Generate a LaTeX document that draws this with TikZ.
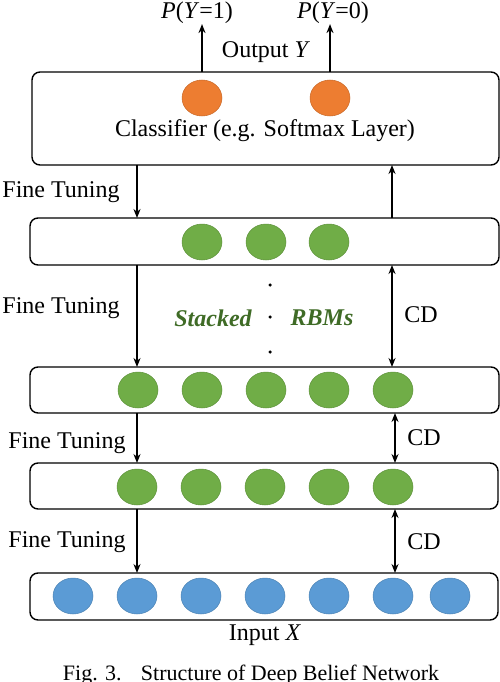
\documentclass[tikz,border=0pt]{standalone}
\usepackage{fontspec}
\setmainfont{Liberation Serif}
\usetikzlibrary{shapes.geometric,arrows.meta}
\definecolor{cor}{HTML}{ED7D31}
\definecolor{cgr}{HTML}{70AD47}
\definecolor{cbl}{HTML}{5B9BD5}
\definecolor{cdg}{HTML}{3F6B26}
\tikzset{
  layerbox/.style={draw, line width=1.4pt, rounded corners=8pt},
  unitor/.style={ellipse, fill=cor, draw=cor!85!black, line width=0.5pt, minimum width=40pt, minimum height=36pt, inner sep=0pt},
  unitgr/.style={ellipse, fill=cgr, draw=cgr!85!black, line width=0.5pt, minimum width=40pt, minimum height=36pt, inner sep=0pt},
  unitbl/.style={ellipse, fill=cbl, draw=cbl!85!black, line width=0.5pt, minimum width=40pt, minimum height=36pt, inner sep=0pt},
  lbl/.style={font=\fontsize{24pt}{28pt}\selectfont, inner sep=0pt},
  arr/.style={line width=1.7pt, -{Stealth[length=9pt,width=7pt]}},
  darr/.style={line width=1.7pt, {Stealth[length=9pt,width=7pt]}-{Stealth[length=9pt,width=7pt]}},
  dotn/.style={circle, fill=black, inner sep=0pt, minimum size=3.5pt}
}
\begin{document}
\begin{tikzpicture}[x=1pt,y=-1pt]
\useasboundingbox (0,0) rectangle (500,682);
% boxes
\draw[layerbox] (32,72) rectangle (499,165);
\draw[layerbox] (30,218) rectangle (499,265);
\draw[layerbox] (30,367) rectangle (499,413);
\draw[layerbox] (30,463) rectangle (498,509);
\draw[layerbox] (30,573) rectangle (498,620);
% coordinates on boxes
\coordinate (clsT1) at (202,72);
\coordinate (clsT2) at (330,72);
\coordinate (clsB1) at (137,165);
\coordinate (clsB2) at (392,165);
\coordinate (b2T1) at (137,218);
\coordinate (b2T2) at (392,218);
\coordinate (b2B1) at (137,265);
\coordinate (b2B2) at (392,265);
\coordinate (b3T1) at (137,367);
\coordinate (b3T2) at (392,367);
\coordinate (b3B1) at (137,413);
\coordinate (b3B2) at (395,413);
\coordinate (b4T1) at (137,463);
\coordinate (b4T2) at (395,463);
\coordinate (b4B1) at (137,509);
\coordinate (b4B2) at (395,509);
\coordinate (b5T1) at (137,573);
\coordinate (b5T2) at (395,573);
% classifier units
\node[unitor] (o1) at (202,98) {};
\node[unitor] (o2) at (330,98) {};
\node[lbl] (clstext) at (265,131) {Classifier (e.g. Softmax Layer)};
% outputs
\node[lbl] (p1) at (197,13) {\textit{P}(\textit{Y}=1)};
\node[lbl] (p0) at (333,13) {\textit{P}(\textit{Y}=0)};
\node[lbl] (outy) at (266,52) {Output \textit{Y}};
\draw[arr] (clsT1) -- (p1.south -| clsT1);
\draw[arr] (clsT2) -- (p0.south -| clsT2);
% layer 2
\node[unitgr] (g21) at (202,242) {};
\node[unitgr] (g22) at (266,242) {};
\node[unitgr] (g23) at (329,242) {};
% layer 3
\foreach \x [count=\i] in {138,202,266,329,393}{\node[unitgr] (g3\i) at (\x,390) {};}
% layer 4
\foreach \x [count=\i] in {137,201,265,329,393}{\node[unitgr] (g4\i) at (\x,487) {};}
% layer 5
\foreach \x [count=\i] in {73,137,201,265,329,393,450}{\node[unitbl] (b5\i) at (\x,596) {};}
% connectors
\draw[arr] (clsB1) -- (b2T1);
\draw[arr] (b2T2) -- (clsB2);
\draw[arr] (b2B1) -- (b3T1);
\draw[darr] (b2B2) -- (b3T2);
\draw[arr] (b3B1) -- (b4T1);
\draw[darr] (b3B2) -- (b4T2);
\draw[arr] (b4B1) -- (b5T1);
\draw[darr] (b4B2) -- (b5T2);
% labels
\node[lbl] (ft1) at (61,192) {Fine Tuning};
\node[lbl] (ft2) at (61,308) {Fine Tuning};
\node[lbl] (ft3) at (67,443) {Fine Tuning};
\node[lbl] (ft4) at (67,542) {Fine Tuning};
\node[lbl] (cd1) at (421,315) {CD};
\node[lbl] (cd2) at (424,438) {CD};
\node[lbl] (cd3) at (424,542) {CD};
\node[lbl, text=cdg, font=\fontsize{24pt}{28pt}\selectfont\bfseries\itshape] (stk) at (213,318) {Stacked};
\node[lbl, text=cdg, font=\fontsize{24pt}{28pt}\selectfont\bfseries\itshape] (rbm) at (322,318) {RBMs};
\node[dotn] (d1) at (270,285) {};
\node[dotn] (d2) at (270,317) {};
\node[dotn] (d3) at (270,352) {};
\node[lbl] (inx) at (265,635) {Input \textit{X}};
\node[font=\fontsize{22pt}{26pt}\selectfont, inner sep=0pt] (cap) at (251,675) {Fig. 3.\hspace{12pt} Structure of Deep Belief Network};
\end{tikzpicture}
\end{document}
